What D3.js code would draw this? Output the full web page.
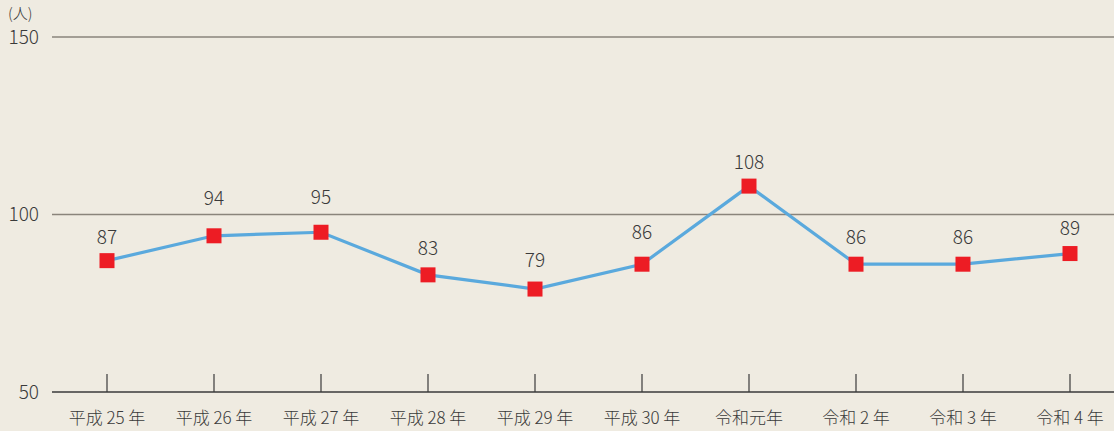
<!DOCTYPE html>
<html>
<head>
<meta charset="utf-8">
<script src="https://cdn.jsdelivr.net/npm/d3@7"></script>
<style>
    body { margin: 0; background: #efebe1; }
    svg { display: block; font-family: "Noto Sans CJK JP", "Noto Sans", sans-serif; font-weight: 300; }
</style>
</head>
<body>
<svg id="chart" width="1114" height="431"></svg>
<script>
// Data
var YEARS = ["平成 25 年", "平成 26 年", "平成 27 年", "平成 28 年", "平成 29 年",
             "平成 30 年", "令和元年", "令和 2 年", "令和 3 年", "令和 4 年"];
var COUNTS = [87, 94, 95, 83, 79, 86, 108, 86, 86, 89];
var Y_TICKS = [50, 100, 150];
var UNIT_LABEL = "(人)";

// Layout
var CANVAS_WIDTH = 1114;
var CANVAS_HEIGHT = 431;
var PLOT_LEFT = 52;
var PLOT_TOP = 37;
var PLOT_BOTTOM = 392;
var LABEL_LIFT = [23, 37, 35, 27, 29, 32, 24, 27, 27, 25];
var SQ_SIDE = 15;

var BG_COLOR = "#efebe1";
var GRID_COLOR = "#8a847b";
var AXIS_COLOR = "#3a3a3a";
var LINE_COLOR = "#5aa9dd";
var MARKER_COLOR = "#ed1c24";
var TEXT_COLOR = "#3a3a3a";

var svg = d3.select("#chart");

svg.append("rect")
    .attr("width", CANVAS_WIDTH)
    .attr("height", CANVAS_HEIGHT)
    .attr("fill", BG_COLOR);

var xScale = d3.scalePoint()
    .domain(YEARS)
    .range([107, 1070]);

var yScale = d3.scaleLinear()
    .domain([50, 150])
    .range([PLOT_BOTTOM, PLOT_TOP]);

// Gridlines (upper ones grey, baseline dark)
Y_TICKS.forEach(function (t) {
    svg.append("line")
        .attr("x1", PLOT_LEFT)
        .attr("x2", CANVAS_WIDTH)
        .attr("y1", yScale(t))
        .attr("y2", yScale(t))
        .attr("stroke", t === 50 ? AXIS_COLOR : GRID_COLOR)
        .attr("stroke-width", t === 50 ? 1.5 : 1.6);

    svg.append("text")
        .attr("x", 39)
        .attr("y", yScale(t))
        .attr("dy", "0.35em")
        .attr("text-anchor", "end")
        .attr("font-size", 19)
        .attr("fill", TEXT_COLOR)
        .text(t);
});

svg.append("text")
    .attr("x", 8)
    .attr("y", 19)
    .attr("font-size", 15)
    .attr("fill", TEXT_COLOR)
    .text(UNIT_LABEL);

// Category ticks and labels
svg.selectAll(".x-tick")
    .data(YEARS)
    .enter()
    .append("line")
    .attr("class", "x-tick")
    .attr("x1", d => xScale(d))
    .attr("x2", d => xScale(d))
    .attr("y1", PLOT_BOTTOM - 18)
    .attr("y2", PLOT_BOTTOM)
    .attr("stroke", AXIS_COLOR)
    .attr("stroke-width", 1.2);

svg.selectAll(".x-label")
    .data(YEARS)
    .enter()
    .append("text")
    .attr("class", "x-label")
    .attr("x", d => xScale(d))
    .attr("y", 424)
    .attr("text-anchor", "middle")
    .attr("font-size", 17)
    .attr("fill", TEXT_COLOR)
    .text(d => d);

// Line
var lineGenerator = d3.line()
    .x((d, i) => xScale(YEARS[i]))
    .y(d => yScale(d));

svg.append("path")
    .attr("d", lineGenerator(COUNTS))
    .attr("fill", "none")
    .attr("stroke", LINE_COLOR)
    .attr("stroke-width", 3.2);

// Markers
svg.selectAll(".marker")
    .data(COUNTS)
    .enter()
    .append("rect")
    .attr("class", "marker")
    .attr("x", (d, i) => xScale(YEARS[i]) - SQ_SIDE / 2)
    .attr("y", d => yScale(d) - SQ_SIDE / 2)
    .attr("width", SQ_SIDE)
    .attr("height", SQ_SIDE)
    .attr("fill", MARKER_COLOR);

// Value labels
svg.selectAll(".value-label")
    .data(COUNTS)
    .enter()
    .append("text")
    .attr("class", "value-label")
    .attr("x", (d, i) => xScale(YEARS[i]))
    .attr("y", (d, i) => yScale(d) - LABEL_LIFT[i])
    .attr("dy", "0.35em")
    .attr("text-anchor", "middle")
    .attr("font-size", 19)
    .attr("fill", TEXT_COLOR)
    .text(d => d);
</script>
</body>
</html>
